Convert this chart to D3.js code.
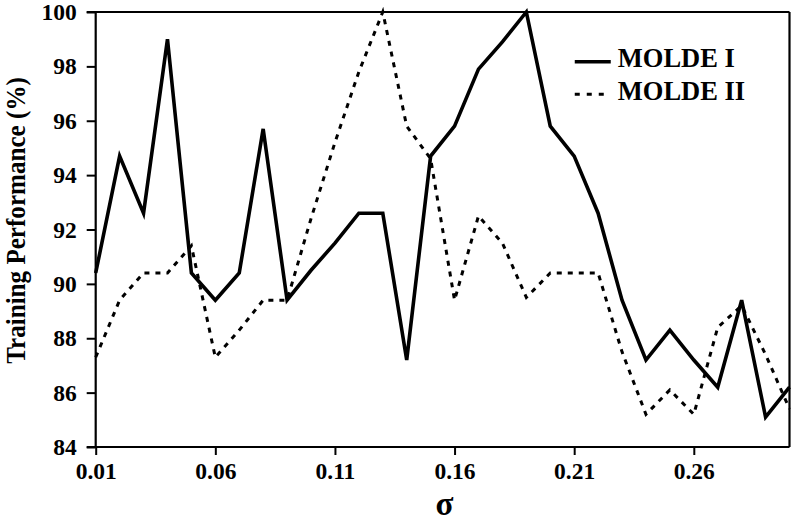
<!DOCTYPE html>
<html>
<head>
<meta charset="utf-8">
<script src="https://cdn.jsdelivr.net/npm/d3@7"></script>
<style>
  body { margin: 0; background: #fff; }
  svg text { font-family: "Liberation Serif", "Times New Roman", serif; font-weight: bold; fill: #000; }
</style>
</head>
<body>
<div id="chart"></div>
<script>
  // sigma values on the x axis
  var sigma = [0.01, 0.02, 0.03, 0.04, 0.05, 0.06, 0.07, 0.08, 0.09, 0.10,
               0.11, 0.12, 0.13, 0.14, 0.15, 0.16, 0.17, 0.18, 0.19, 0.20,
               0.21, 0.22, 0.23, 0.24, 0.25, 0.26, 0.27, 0.28, 0.29, 0.30]

  // training performance (%)
  var molde1 = [90.4, 94.7, 92.6, 99.0, 90.4, 89.4, 90.4, 95.7, 89.4, 90.5,
                91.5, 92.6, 92.6, 87.2, 94.7, 95.8, 97.9, 98.9, 100, 95.8,
                94.7, 92.6, 89.4, 87.2, 88.3, 87.2, 86.2, 89.4, 85.1, 86.2]
  var molde2 = [87.3, 89.4, 90.4, 90.4, 91.4, 87.3, 88.3, 89.4, 89.4, 92.4,
                95.2, 97.8, 100, 95.8, 94.6, 89.4, 92.5, 91.5, 89.5, 90.4,
                90.4, 90.4, 87.5, 85.2, 86.1, 85.2, 88.4, 89.2, 87.4, 85.4]

  // tick labels
  var xTicks = [0.01, 0.06, 0.11, 0.16, 0.21, 0.26]
  var yTicks = [84, 86, 88, 90, 92, 94, 96, 98, 100]

  var seriesNames = ["MOLDE I", "MOLDE II"]

  // dimensions
  var margin = {top: 12, right: 1.5, bottom: 78, left: 95.7},
      width = 791 - margin.left - margin.right,
      height = 525 - margin.top - margin.bottom;

  var x = d3.scaleLinear().domain([0.01, 0.30]).range([0, width]);
  var y = d3.scaleLinear().domain([84, 100]).range([height, 0]);

  var svg = d3.select("#chart").append("svg")
      .attr("width", 791)
      .attr("height", 525);

  var plot = svg.append("g")
      .attr("transform", "translate(" + margin.left + "," + margin.top + ")");

  // y axis
  var yAxis = plot.append("g")
      .call(d3.axisLeft(y).tickValues(yTicks).tickSize(9).tickPadding(10).tickFormat(d3.format("d")));
  yAxis.select(".domain").remove();
  yAxis.selectAll("line").attr("stroke", "#000").attr("stroke-width", 2);
  yAxis.selectAll("text").style("font-size", "23.5px");

  // x axis
  var xAxis = plot.append("g")
      .attr("transform", "translate(0," + height + ")")
      .call(d3.axisBottom(x).tickValues(xTicks).tickSize(8).tickPadding(7).tickFormat(d3.format(".2f")));
  xAxis.select(".domain").remove();
  xAxis.selectAll("line").attr("stroke", "#000").attr("stroke-width", 2);
  xAxis.selectAll("text").style("font-size", "23.5px");

  // frame
  var frame = [
    [-9, 0, width, 0],
    [-9, height, width, height],
    [0, 0, 0, height],
    [width, 0, width, height]
  ]
  plot.selectAll(".frame")
    .data(frame)
    .enter().append("line")
      .attr("class", "frame")
      .attr("x1", function(d){ return d[0]; })
      .attr("y1", function(d){ return d[1]; })
      .attr("x2", function(d){ return d[2]; })
      .attr("y2", function(d){ return d[3]; })
      .attr("stroke", "#000")
      .attr("stroke-width", 2.2);

  var line = d3.line()
      .x(function(d){ return x(d[0]); })
      .y(function(d){ return y(d[1]); });

  // dashed series
  plot.append("path")
      .datum(d3.zip(sigma, molde2))
      .attr("d", line)
      .attr("fill", "none")
      .attr("stroke", "#000")
      .attr("stroke-width", 3)
      .attr("stroke-dasharray", "5,6");

  // solid series
  plot.append("path")
      .datum(d3.zip(sigma, molde1))
      .attr("d", line)
      .attr("fill", "none")
      .attr("stroke", "#000")
      .attr("stroke-width", 3.6)
      .attr("stroke-linejoin", "miter");

  // legend
  var legend = plot.selectAll(".legend")
      .data(seriesNames)
    .enter().append("g")
      .attr("class", "legend")
      .attr("transform", function(d, i){ return "translate(" + (x(0.2)+24.5) + "," + (49.7 + i * 32.6) + ")"; });

  legend.append("line")
      .attr("x1", 0)
      .attr("x2", 36)
      .attr("stroke", "#000")
      .attr("stroke-width", function(d, i){ return i == 0 ? 3.6 : 3; })
      .attr("stroke-dasharray", function(d, i){ return i == 0 ? null : "5,7"; });

  legend.append("text")
      .attr("x", 43)
      .attr("y", 5.5)
      .style("font-size", "26.5px")
      .text(function(d){ return d; });

  // axis labels
  svg.append("text")
      .attr("transform", "translate(25," + 220.5 + ") rotate(-90) scale(0.93,1)")
      .style("text-anchor", "middle")
      .style("font-size", "27px")
      .text("Training Performance (%)");

  svg.append("text")
      .attr("x", margin.left + width / 2 + 2)
      .attr("y", 515)
      .style("text-anchor", "middle")
      .style("font-size", "33px")
      .text("σ");
</script>
</body>
</html>
